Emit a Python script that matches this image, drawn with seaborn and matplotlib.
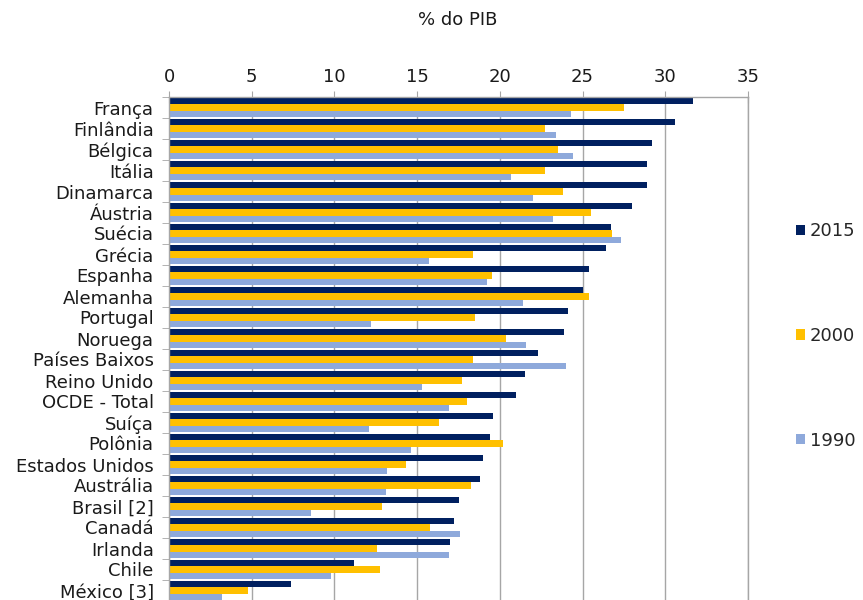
import pandas as pd
import seaborn as sns
import matplotlib.pyplot as plt
from matplotlib.patches import Patch

paises = ["França", "Finlândia", "Bélgica", "Itália", "Dinamarca", "Áustria", "Suécia",
          "Grécia", "Espanha", "Alemanha", "Portugal", "Noruega", "Países Baixos",
          "Reino Unido", "OCDE - Total", "Suíça", "Polônia", "Estados Unidos",
          "Austrália", "Brasil [2]", "Canadá", "Irlanda", "Chile", "México [3]"]

v2015 = [31.7, 30.6, 29.2, 28.9, 28.9, 28.0, 26.7, 26.4, 25.4, 25.0, 24.1, 23.9,
         22.3, 21.5, 21.0, 19.6, 19.4, 19.0, 18.8, 17.5, 17.2, 17.0, 11.2, 7.4]
v2000 = [27.5, 22.7, 23.5, 22.7, 23.8, 25.5, 26.8, 18.4, 19.5, 25.4, 18.5, 20.4,
         18.4, 17.7, 18.0, 16.3, 20.2, 14.3, 18.25, 12.9, 15.8, 12.6, 12.75, 4.8]
v1990 = [24.3, 23.4, 24.4, 20.7, 22.0, 23.2, 27.3, 15.7, 19.2, 21.4, 12.2, 21.6,
         24.0, 15.3, 16.9, 12.1, 14.6, 13.2, 13.1, 8.6, 17.6, 16.9, 9.8, 3.2]

anos = ["2015", "2000", "1990"]
cores = ["#002060", "#FFC000", "#8EA9DB"]

df = pd.DataFrame({
    "pais": paises * 3,
    "valor": v2015 + v2000 + v1990,
    "ano": [a for a in anos for _ in paises],
})

sns.set_style("white")
plt.rcParams["font.family"] = ["DejaVu Sans"]

fig = plt.figure(figsize=(8.63, 6), dpi=100)
ax = fig.add_axes([169 / 863, -1 / 600, (748 - 169) / 863, 504 / 600])

sns.barplot(data=df, y="pais", x="valor", hue="ano", hue_order=anos, palette=cores,
            orient="h", width=0.86, saturation=1, ax=ax, legend=False, linewidth=0)

ax.set_xlim(0, 35)
ax.set_xticks(range(0, 36, 5))
ax.xaxis.tick_top()
ax.tick_params(axis="x", which="major", direction="inout", length=8, color="#A6A6A6",
               labelsize=13, pad=4, labelcolor="#1a1a1a")
ax.set_xlabel("")
ax.set_ylabel("")

n = len(paises)
ax.set_yticks(range(n))
ax.set_yticklabels(paises)
ax.set_yticks([i + 0.5 for i in range(-1, n)], minor=True)
ax.tick_params(axis="y", which="major", length=0, labelsize=13, pad=11, labelcolor="#1a1a1a")
ax.tick_params(axis="y", which="minor", direction="out", length=5, color="#A6A6A6", left=True)
ax.set_ylim(n - 0.5, -0.5)

ax.grid(axis="x", color="#A6A6A6", lw=1)
ax.set_axisbelow(True)
ax.spines["bottom"].set_visible(False)
for s in ["left", "top", "right"]:
    ax.spines[s].set_color("#A6A6A6")
    ax.spines[s].set_linewidth(1)

fig.text(458 / 863, 1 - 20 / 600, "% do PIB", ha="center", va="center", fontsize=13,
         color="#1a1a1a")

handles = [Patch(facecolor=c, edgecolor="none") for c in cores]
fig.legend(handles, anos, loc="center left", bbox_to_anchor=(796 / 863, 1 - 336 / 600),
           frameon=False, fontsize=13, handlelength=0.5, handleheight=0.5,
           handletextpad=0.25, labelspacing=4.8, borderpad=0, borderaxespad=0)

fig.savefig("out.png", dpi=100)
